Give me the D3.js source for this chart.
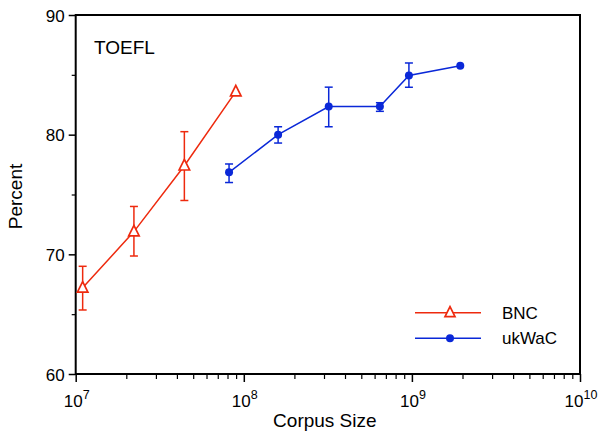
<!DOCTYPE html>
<html><head><meta charset="utf-8">
<script src="https://cdn.jsdelivr.net/npm/d3@7"></script>
<style>body{margin:0;background:#fff}svg{display:block}text{font-family:"Liberation Sans",Arial,sans-serif;fill:#000}</style>
</head><body><svg id="c" width="604" height="432"></svg>
<script>
const bncX = [1.1e7, 2.22e7, 4.43e7, 8.96e7];
const bncY = [67.2, 71.9, 77.4, 83.6];
const bncLo = [65.35, 69.86, 74.5, null];
const bncHi = [69.0, 74.0, 80.25, null];
const ukX = [8.17e7, 1.6e8, 3.2e8, 6.45e8, 9.6e8, 1.94e9];
const ukY = [76.85, 80.0, 82.35, 82.35, 84.95, 85.75];
const ukLo = [76.0, 79.3, 80.66, 81.95, 83.96, null];
const ukHi = [77.55, 80.66, 83.97, 82.67, 85.99, null];
const yTicks = [60, 70, 80, 90];
const yMinor = [65, 75, 85];
const xTicks = [1e7, 1e8, 1e9, 1e10];
const seriesNames = ["BNC", "ukWaC"];
const colors = ["#ee2a0e", "#0a28d8"];

const svg = d3.select("#c");
const L = 75.7, R = 580, T = 15, B = 374;
const x = d3.scaleLog().domain([1e7, 1e10]).range([L, R]);
const y = d3.scaleLinear().domain([60, 90]).range([B, T]);

const xMinor = [];
for (let e = 7; e < 10; e++) for (let k = 2; k <= 9; k++) xMinor.push(k * Math.pow(10, e));

const g = svg.append("g");
g.append("rect").attr("x", L).attr("y", T).attr("width", R - L).attr("height", B - T)
  .attr("fill", "none").attr("stroke", "#000").attr("stroke-width", 2);

const xa = g.append("g").attr("transform", `translate(0,${B})`)
  .call(d3.axisBottom(x).tickValues(xTicks).tickSize(8).tickFormat(() => ""));
xa.select(".domain").remove();
xa.selectAll("line").attr("stroke-width", 1.5);
const xm = g.append("g").attr("transform", `translate(0,${B})`)
  .call(d3.axisBottom(x).tickValues(xMinor).tickSize(5).tickFormat(() => ""));
xm.select(".domain").remove();
xm.selectAll("line").attr("stroke-width", 1.2);
xTicks.forEach(v => {
  const t = g.append("text").attr("x", x(v) + 1).attr("y", B + 33).attr("text-anchor", "middle")
    .style("font-size", "17px");
  t.append("tspan").text("10");
  t.append("tspan").attr("dy", -8).style("font-size", "12.5px").text(Math.round(Math.log10(v)));
});

const ya = g.append("g").attr("transform", `translate(${L},0)`)
  .call(d3.axisLeft(y).tickValues(yTicks).tickSize(7).tickPadding(4).tickFormat(d3.format("d")));
ya.select(".domain").remove();
ya.selectAll("line").attr("stroke-width", 1.5);
ya.selectAll("text").style("font-size", "17px").attr("dy", "0.36em").attr("font-family", null);
const ym = g.append("g").attr("transform", `translate(${L},0)`)
  .call(d3.axisLeft(y).tickValues(yMinor).tickSize(4).tickFormat(() => ""));
ym.select(".domain").remove();
ym.selectAll("line").attr("stroke-width", 1.2);

g.append("text").attr("x", (L + R) / 2 - 3).attr("y", 427).attr("text-anchor", "middle")
  .style("font-size", "19px").text("Corpus Size");
g.append("text").attr("transform", `translate(22,${(T + B) / 2 + 2}) rotate(-90)`)
  .attr("text-anchor", "middle").style("font-size", "19px").text("Percent");
g.append("text").attr("x", 94).attr("y", 54).style("font-size", "19px").text("TOEFL");

const line = d3.line().x(d => x(d[0])).y(d => y(d[1]));
const series = [
  {name: "BNC", xs: bncX, ys: bncY, lo: bncLo, hi: bncHi, color: colors[0], marker: "tri"},
  {name: "ukWaC", xs: ukX, ys: ukY, lo: ukLo, hi: ukHi, color: colors[1], marker: "dot"}
];
const triPath = s => `M0,${-s*0.6}L${s*0.5},${s*0.4}L${-s*0.5},${s*0.4}Z`;

series.forEach(s => {
  const pts = s.xs.map((v, i) => [v, s.ys[i], s.lo[i], s.hi[i]]);
  const sg = g.append("g");
  sg.append("path").datum(pts).attr("d", line).attr("fill", "none")
    .attr("stroke", s.color).attr("stroke-width", 1.5);
  pts.filter(p => p[2] != null).forEach(p => {
    const cx = x(p[0]);
    sg.append("line").attr("x1", cx).attr("x2", cx).attr("y1", y(p[2])).attr("y2", y(p[3]))
      .attr("stroke", s.color).attr("stroke-width", 1.5);
    [p[2], p[3]].forEach(v => sg.append("line").attr("x1", cx - 4).attr("x2", cx + 4)
      .attr("y1", y(v)).attr("y2", y(v)).attr("stroke", s.color).attr("stroke-width", 1.5));
  });
  pts.forEach(p => {
    if (s.marker === "tri") {
      sg.append("path").attr("d", triPath(10.5)).attr("transform", `translate(${x(p[0])},${y(p[1])})`)
        .attr("fill", "#fff").attr("stroke", s.color).attr("stroke-width", 1.7);
    } else {
      sg.append("circle").attr("cx", x(p[0])).attr("cy", y(p[1])).attr("r", 4).attr("fill", s.color);
    }
  });
});

const leg = g.append("g");
[312.7, 338.3].forEach((ly, i) => {
  const s = series[i];
  leg.append("line").attr("x1", 415).attr("x2", 481).attr("y1", ly).attr("y2", ly)
    .attr("stroke", s.color).attr("stroke-width", 1.5);
  if (s.marker === "tri") {
    leg.append("path").attr("d", triPath(10)).attr("transform", `translate(450,${ly})`)
      .attr("fill", "#fff").attr("stroke", s.color).attr("stroke-width", 1.7);
  } else {
    leg.append("circle").attr("cx", 450).attr("cy", ly).attr("r", 4).attr("fill", s.color);
  }
  leg.append("text").attr("x", 502).attr("y", ly).attr("dy", "0.36em").style("font-size", "17px").text(seriesNames[i]);
});
</script></body></html>
